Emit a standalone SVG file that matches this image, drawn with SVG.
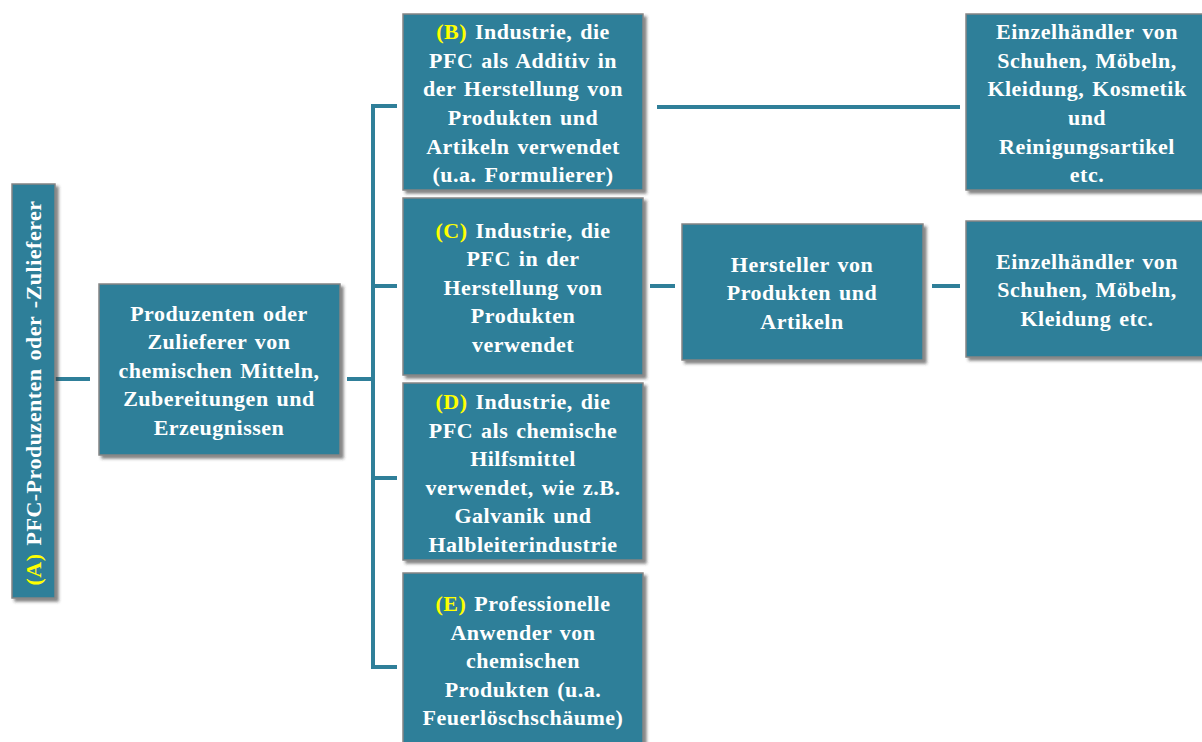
<svg xmlns="http://www.w3.org/2000/svg" width="1202" height="742" viewBox="0 0 1202 742">
<defs>
<filter id="sh" x="-10%" y="-10%" width="130%" height="130%">
<feDropShadow dx="3" dy="3" stdDeviation="1.5" flood-color="#333" flood-opacity="0.6"/>
</filter>
<style>
.box{fill:#2f7f99;stroke:#858585;stroke-width:1.5;filter:url(#sh)}
.t{font-family:"Liberation Serif","Times New Roman",serif;font-weight:bold;font-size:22px;fill:#ffffff;text-anchor:middle;letter-spacing:0.5px;word-spacing:2px}
.y{fill:#ffff00}
.c{stroke:#2f7f99;stroke-width:4;fill:none}
</style>
</defs>
<rect width="1202" height="742" fill="#ffffff"/>
<g id="connectors">
<line class="c" x1="55" y1="379" x2="90" y2="379"/>
<line class="c" x1="347" y1="379" x2="373" y2="379"/>
<polyline class="c" points="397,106 373,106 373,667 397,667"/>
<line class="c" x1="373" y1="286" x2="397" y2="286"/>
<line class="c" x1="373" y1="478" x2="397" y2="478"/>
<line class="c" x1="657" y1="107" x2="960" y2="107"/>
<line class="c" x1="650" y1="286" x2="675" y2="286"/>
<line class="c" x1="932" y1="286" x2="960" y2="286"/>
</g>
<g id="nodeA">
<rect class="box" x="12" y="184" width="43" height="414"/>
<text class="t" transform="translate(41,393) rotate(-90)"><tspan class="y">(A)</tspan> PFC-Produzenten oder -Zulieferer</text>
</g>
<g id="nodeProd">
<rect class="box" x="99" y="284" width="241" height="171"/>
<text class="t"><tspan x="219" y="321">Produzenten oder</tspan><tspan x="219" y="349">Zulieferer von</tspan><tspan x="219" y="378">chemischen Mitteln,</tspan><tspan x="219" y="406">Zubereitungen und</tspan><tspan x="219" y="435">Erzeugnissen</tspan></text>
</g>
<g id="nodeB">
<rect class="box" x="403" y="14" width="240" height="176"/>
<text class="t"><tspan x="523" y="39"><tspan class="y">(B)</tspan> Industrie, die</tspan><tspan x="523" y="68">PFC als Additiv in</tspan><tspan x="523" y="96">der Herstellung von</tspan><tspan x="523" y="125">Produkten und</tspan><tspan x="523" y="154">Artikeln verwendet</tspan><tspan x="523" y="182">(u.a. Formulierer)</tspan></text>
</g>
<g id="nodeC">
<rect class="box" x="403" y="198" width="240" height="177"/>
<text class="t"><tspan x="523" y="238"><tspan class="y">(C)</tspan> Industrie, die</tspan><tspan x="523" y="266">PFC in der</tspan><tspan x="523" y="295">Herstellung von</tspan><tspan x="523" y="323">Produkten</tspan><tspan x="523" y="352">verwendet</tspan></text>
</g>
<g id="nodeD">
<rect class="box" x="403" y="383" width="240" height="177"/>
<text class="t"><tspan x="523" y="409"><tspan class="y">(D)</tspan> Industrie, die</tspan><tspan x="523" y="438">PFC als chemische</tspan><tspan x="523" y="466">Hilfsmittel</tspan><tspan x="523" y="495">verwendet, wie z.B.</tspan><tspan x="523" y="523">Galvanik und</tspan><tspan x="523" y="552">Halbleiterindustrie</tspan></text>
</g>
<g id="nodeE">
<rect class="box" x="403" y="573" width="240" height="180"/>
<text class="t"><tspan x="523" y="611"><tspan class="y">(E)</tspan> Professionelle</tspan><tspan x="523" y="640">Anwender von</tspan><tspan x="523" y="668">chemischen</tspan><tspan x="523" y="697">Produkten (u.a.</tspan><tspan x="523" y="725">Feuerlöschschäume)</tspan></text>
</g>
<g id="nodeHersteller">
<rect class="box" x="682" y="224" width="241" height="136"/>
<text class="t"><tspan x="802" y="272">Hersteller von</tspan><tspan x="802" y="300">Produkten und</tspan><tspan x="802" y="329">Artikeln</tspan></text>
</g>
<g id="nodeRetail1">
<rect class="box" x="966" y="14" width="240" height="176"/>
<text class="t"><tspan x="1087" y="39">Einzelhändler von</tspan><tspan x="1087" y="68">Schuhen, Möbeln,</tspan><tspan x="1087" y="96">Kleidung, Kosmetik</tspan><tspan x="1087" y="125">und</tspan><tspan x="1087" y="154">Reinigungsartikel</tspan><tspan x="1087" y="182">etc.</tspan></text>
</g>
<g id="nodeRetail2">
<rect class="box" x="966" y="221" width="240" height="136"/>
<text class="t"><tspan x="1087" y="269">Einzelhändler von</tspan><tspan x="1087" y="297">Schuhen, Möbeln,</tspan><tspan x="1087" y="326">Kleidung etc.</tspan></text>
</g>
</svg>
